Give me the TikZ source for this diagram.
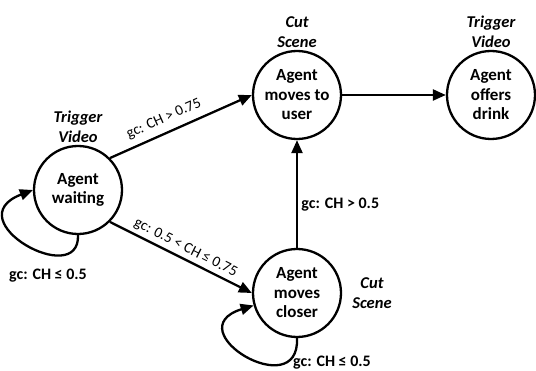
\documentclass[tikz,border=0pt]{standalone}
\usepackage{fontspec}
\setmainfont{Carlito}
\usetikzlibrary{arrows.meta,positioning}

\tikzset{
  state/.style={draw,circle,line width=2.3pt,minimum size=88pt,inner sep=0pt,align=center,
    font=\fontsize{17}{19.5}\selectfont\bfseries},
  tag/.style={align=center,inner sep=1pt,font=\fontsize{16.5}{20.5}\selectfont\bfseries\itshape},
  trans/.style={line width=2.3pt,-{Triangle[length=13pt,width=11pt]}},
  guard/.style={font=\fontsize{15}{18}\selectfont},
  bguard/.style={font=\fontsize{16}{18}\selectfont\bfseries}
}

\begin{document}
\begin{tikzpicture}[x=1pt,y=1pt]
        \useasboundingbox (0,0) rectangle (536,370);

        % states
        \node[state] (waiting) at (78,180) {Agent\\waiting};
        \node[state] (user) at (297,275) {Agent\\moves to\\user};
        \node[state] (drink) at (491,275) {Agent\\offers\\drink};
        \node[state] (closer) at (297,77) {Agent\\moves\\closer};

        % scene tags
        \node[tag,above=1pt of waiting] (waitingtag) {Trigger\\Video};
        \node[tag,above=1pt of user] (usertag) {Cut\\Scene};
        \node[tag,above=1pt of drink] (drinktag) {Trigger\\Video};
        \node[tag,right=9pt of closer] (closertag) {Cut\\Scene};

        % transitions
        \draw[trans] (waiting.45) -- node[guard,above=3pt,sloped,pos=0.42] (gfar) {gc: CH > 0.75} (user.west);
        \draw[trans] (waiting.-45) -- node[guard,above,sloped] (gnear) {gc: 0.5 < CH ≤ 0.75} (closer.west);
        \draw[trans] (closer.north) -- node[bguard,right,pos=0.4] (gup) {gc: CH > 0.5} (user.south);
        \draw[trans] (user.east) -- (drink.west);

        % self loops
        \draw[trans] (waiting.south) .. controls (80,80) and (-45,150) .. (waiting.west);
        \node[bguard] (gwait) at (48,94) {gc: CH ≤ 0.5};
        \draw[trans] (closer.south) .. controls (300,-35) and (175,40) .. (closer.196);
        \node[bguard] (gstay) at (332,7) {gc: CH ≤ 0.5};
    \end{tikzpicture}
\end{document}
